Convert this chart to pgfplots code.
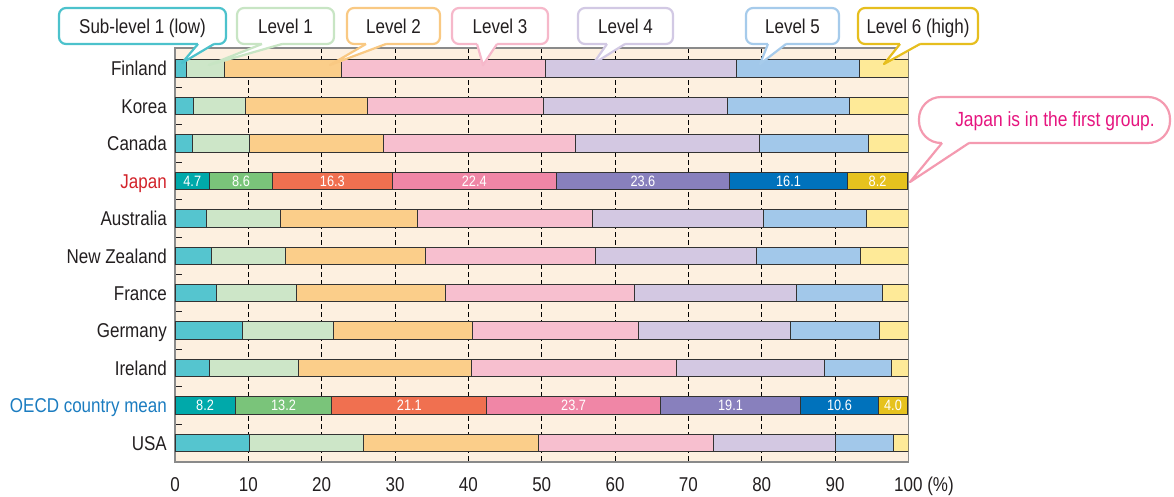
\documentclass[border=0pt]{standalone}
\usepackage{pgfplots}
\pgfplotsset{compat=1.18}
\usepackage{pgfplotstable}
\usepackage{fontspec}
\setmainfont{Liberation Sans}[FakeStretch=0.85]

% light fills for the ordinary rows
\definecolor{lv0}{HTML}{55C5CF}
\definecolor{lv1}{HTML}{CDE6C8}
\definecolor{lv2}{HTML}{FBCE8A}
\definecolor{lv3}{HTML}{F7BFCF}
\definecolor{lv4}{HTML}{D3C8E2}
\definecolor{lv5}{HTML}{A2C8EA}
\definecolor{lv6}{HTML}{FEEA98}
% strong fills for Japan and the OECD mean
\definecolor{dk0}{HTML}{00A9AA}
\definecolor{dk1}{HTML}{7AC47A}
\definecolor{dk2}{HTML}{F07050}
\definecolor{dk3}{HTML}{F086A6}
\definecolor{dk4}{HTML}{8880BD}
\definecolor{dk5}{HTML}{0072BC}
\definecolor{dk6}{HTML}{E6C21E}
% callout borders
\definecolor{cb0}{HTML}{4CC2CC}
\definecolor{cb1}{HTML}{C8E5C4}
\definecolor{cb2}{HTML}{F9C983}
\definecolor{cb3}{HTML}{F6B8CA}
\definecolor{cb4}{HTML}{D2C9E4}
\definecolor{cb5}{HTML}{A6CBEB}
\definecolor{cb6}{HTML}{E6BE1E}
\definecolor{bg}{HTML}{FDF0E0}
\definecolor{frame}{HTML}{8A8A8A}
\definecolor{txt}{HTML}{231F20}
\definecolor{bardraw}{HTML}{333333}
\definecolor{jpred}{HTML}{D2232A}
\definecolor{oecdblue}{HTML}{1B7CC0}
\definecolor{note}{HTML}{E6157F}
\definecolor{notebd}{HTML}{F49AB0}

% share of students (%) by proficiency level; y = row index from the top
\pgfplotstableread{
y  L0   L1   L2   L3   L4   L5   L6
0  1.5  5.3  15.9 27.8 26.1 16.7 6.7
1  2.5  7.1  16.6 24.0 25.1 16.7 8.0
2  2.4  7.7  18.3 26.2 25.1 14.8 5.5
4  4.3  10.1 18.6 23.9 23.3 14.1 5.7
5  5.0  10.0 19.2 23.2 21.9 14.2 6.5
6  5.6  11.0 20.3 25.8 22.1 11.6 3.6
7  9.2  12.4 19.0 22.6 20.7 12.2 3.9
8  4.7  12.1 23.6 28.0 20.2 9.1  2.3
10 10.2 15.5 23.9 23.8 16.6 8.0  2.0
}\lightrows

\pgfplotstableread{
y  D0  D1   D2   D3   D4   D5   D6
3  4.7 8.6  16.3 22.4 23.6 16.1 8.2
9  8.2 13.2 21.1 23.7 19.1 10.6 4.0
}\darkrows

\pgfplotsset{
  rowgeom/.style={
    at={(175pt,-462pt)}, anchor=south west,
    scale only axis, width=733.4pt, height=413.9pt,
    xbar stacked, bar width=17.5pt,
    xmin=0, xmax=100, ymin=-0.55, ymax=10.51,
    y dir=reverse,
  },
  segment/.style={draw=bardraw, line width=1pt, fill=#1},
  % stacked values are labelled at the middle of their own segment
  valued/.style={
    segment=#1,
    point meta=explicit,
    nodes near coords={\makebox[0pt][c]{\pgfmathprintnumber[fixed,fixed zerofill,precision=1]{\pgfplotspointmeta}}},
    every node near coord/.append style={text=white, inner sep=0pt,
      font=\fontsize{15}{18}\selectfont},
  },
}

\newcommand{\callout}[8]{%
  \draw[#1, line width=2.2pt, fill=white, rounded corners=7pt] (#2,8) rectangle (#3,44);
  \fill[white] (#4,41) -- (#4,44) -- (#6,#7) -- (#5,44) -- (#5,41) -- cycle;
  \draw[#1, line width=2.2pt, line join=round] (#4,44) -- (#6,#7) -- (#5,44);
  \node[anchor=base, inner sep=0pt, text=txt, font=\fontsize{20}{24}\selectfont]
    at ({(#2+#3)/2},33.2) {#8};
}

\begin{document}
\begin{tikzpicture}
\begin{axis}[
  rowgeom,
  axis background/.style={fill=bg},
  axis line style={draw=frame, line width=1.3pt},
  xtick={0,10,...,100},
  xticklabels={0,10,20,30,40,50,60,70,80,90,100\rlap{ (\%)}},
  ytick={0,...,10},
  yticklabels={Finland,Korea,Canada,\textcolor{jpred}{Japan},Australia,New Zealand,France,Germany,Ireland,\textcolor{oecdblue}{OECD country mean},USA},
  minor ytick={0.5,1.5,...,9.5},
  major tick length=0pt, minor tick length=7pt,
  tick align=inside, ytick pos=left, xtick pos=bottom,
  minor tick style={draw=txt, line width=1pt},
  xmajorgrids,
  grid style={draw=black, line width=0.9pt, dash pattern=on 5pt off 3pt},
  tick label style={font=\fontsize{20}{24}\selectfont, text=txt},
  yticklabel style={anchor=base east, inner sep=0pt, xshift=-8pt, yshift=-7.2pt},
  xticklabel style={anchor=north, inner sep=0pt, yshift=-15pt},
  /pgf/number format/assume math mode=true,
]
\addplot[segment=lv0] table[x=L0, y=y] {\lightrows};
\addplot[segment=lv1] table[x=L1, y=y] {\lightrows};
\addplot[segment=lv2] table[x=L2, y=y] {\lightrows};
\addplot[segment=lv3] table[x=L3, y=y] {\lightrows};
\addplot[segment=lv4] table[x=L4, y=y] {\lightrows};
\addplot[segment=lv5] table[x=L5, y=y] {\lightrows};
\addplot[segment=lv6] table[x=L6, y=y] {\lightrows};
\end{axis}

% Japan and the OECD mean, with the values written in the segments
\begin{axis}[rowgeom, hide axis, /pgf/number format/assume math mode=true]
\addplot[valued=dk0] table[x=D0, y=y, meta=D0] {\darkrows};
\addplot[valued=dk1] table[x=D1, y=y, meta=D1] {\darkrows};
\addplot[valued=dk2] table[x=D2, y=y, meta=D2] {\darkrows};
\addplot[valued=dk3] table[x=D3, y=y, meta=D3] {\darkrows};
\addplot[valued=dk4] table[x=D4, y=y, meta=D4] {\darkrows};
\addplot[valued=dk5] table[x=D5, y=y, meta=D5] {\darkrows};
\addplot[valued=dk6] table[x=D6, y=y, meta=D6] {\darkrows};
\end{axis}

\begin{scope}[x=1pt, y=-1pt]
\path[use as bounding box] (0,0) rectangle (1174,496);
\callout{cb0}{59}{226}{198}{214}{182}{63}{Sub-level 1 (low)}
\callout{cb1}{237}{334}{262}{282}{209}{65}{Level 1}
\callout{cb2}{347}{440}{366}{386}{330}{65}{Level 2}
\callout{cb3}{452}{548}{477}{497}{483}{65}{Level 3}
\callout{cb4}{578}{673}{607}{625}{593}{64}{Level 4}
\callout{cb5}{746}{839}{768}{786}{760}{64}{Level 5}
\callout{cb6}{858}{978}{900}{920}{884}{64}{Level 6 (high)}
% note pointing at the Japan row
\draw[notebd, line width=2.2pt, fill=white, rounded corners=22pt] (919,97) rectangle (1170,143);
\fill[white] (942,136) -- (942,143) -- (910,182) -- (969,143) -- (969,136) -- cycle;
\draw[notebd, line width=2.2pt, line join=round] (942,143) -- (910,182) -- (969,143);
\node[anchor=base, inner sep=0pt, text=note, font=\fontsize{20.5}{24}\selectfont]
  at (1055,126) {Japan is in the first group.};
\end{scope}
\end{tikzpicture}
\end{document}
